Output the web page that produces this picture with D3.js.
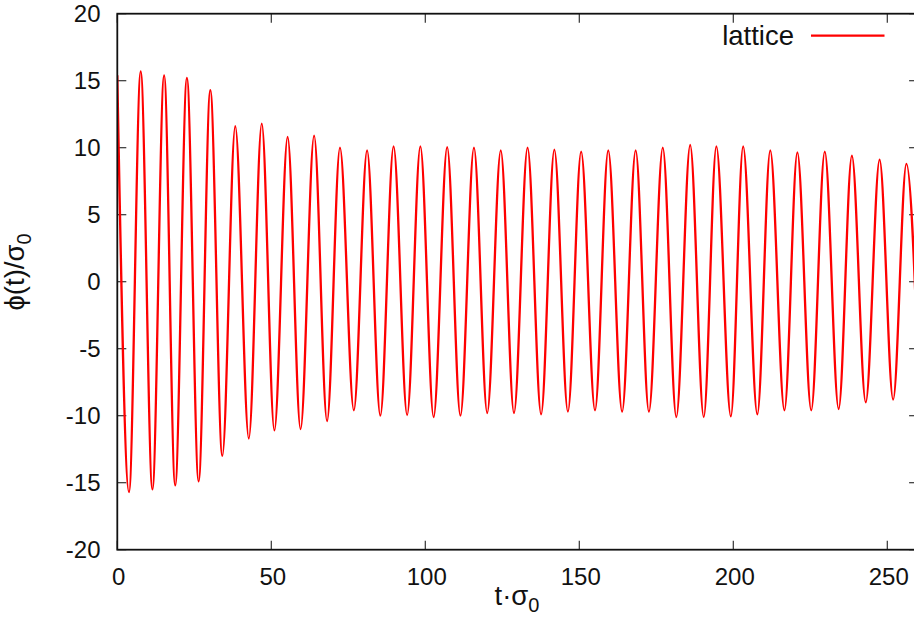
<!DOCTYPE html>
<html>
<head>
<meta charset="utf-8">
<script src="https://cdn.jsdelivr.net/npm/d3@7.9.0/dist/d3.min.js"></script>
<style>
  html, body { margin: 0; padding: 0; background: #fff; }
  svg { display: block; }
  text { font-family: "Liberation Sans", Arial, Helvetica, sans-serif; fill: #111; }
</style>
</head>
<body>
<svg id="chart" width="914" height="635"></svg>
<script>
// ---------- DATA ----------

const seriesName = "lattice";

// maxima of phi(t)/sigma0
const peakTimes  = [0, 7.6, 15.2, 22.6, 30.2, 38.3, 46.9, 55.3, 63.9, 72.3, 81.1, 89.7, 98.4, 107.1, 115.8, 124.5,
                    133.2, 141.9, 150.6, 159.4, 168.3, 177.1, 186.0, 194.5, 203.2, 212.0, 220.8, 229.7, 238.5, 247.5, 256.2];
const peakValues = [15.4, 15.7, 15.4, 15.2, 14.3, 11.6, 11.8, 10.8, 10.9, 10.0, 9.8, 10.1, 10.1, 10.05, 10.0, 9.8,
                    10.0, 9.85, 9.7, 9.8, 9.8, 10.0, 10.2, 10.1, 10.1, 9.8, 9.65, 9.7, 9.4, 9.1, 8.8];

// minima
const troughTimes  = [3.8, 11.4, 18.8, 26.4, 34.1, 42.7, 51.0, 59.5, 68.1, 76.8, 85.4, 94.1, 102.7, 111.4, 120.1, 128.8,
                      137.6, 146.3, 155.1, 163.9, 172.6, 181.5, 190.4, 199.2, 207.8, 216.6, 225.3, 234.2, 243.0, 251.9, 260.4];
const troughValues = [-15.7, -15.5, -15.2, -14.9, -13.0, -11.7, -11.1, -11.0, -10.4, -9.6, -10.0, -9.95, -10.1, -10.0, -9.8, -9.8,
                      -9.9, -9.7, -9.6, -9.7, -9.7, -10.1, -10.1, -10.05, -9.9, -9.6, -9.6, -9.5, -9.0, -8.8, -8.7];

const xTicks = [0, 50, 100, 150, 200, 250];
const yTicks = [-20, -15, -10, -5, 0, 5, 10, 15, 20];

// ---------- LAYOUT ----------

const margin = { left: 117.3, top: 13.7 };
const plotW = 800.8;   // 0..260, right border falls just outside the window
const plotH = 536;
const tickLen = 9;

const svg = d3.select("#chart");

const x = d3.scaleLinear().domain([0, 260]).range([margin.left, margin.left + plotW]);
const y = d3.scaleLinear().domain([-20, 20]).range([margin.top + plotH, margin.top]);

// merge extrema into one time-ordered series
const points = peakTimes.map((t, i) => ({ t, v: peakValues[i] }))
  .concat(troughTimes.map((t, i) => ({ t, v: troughValues[i] })))
  .sort((a, b) => a.t - b.t);

// ---------- CLIP ----------

svg.append("defs").append("clipPath").attr("id", "plotClip")
  .append("rect")
  .attr("x", margin.left).attr("y", margin.top)
  .attr("width", plotW).attr("height", plotH);

// ---------- TICKS (gnuplot style: inward, mirrored) ----------

const ticks = svg.append("g").attr("stroke", "#333").attr("stroke-width", 1.2);

ticks.selectAll(".xb").data(xTicks).join("line")
  .attr("x1", d => x(d)).attr("x2", d => x(d))
  .attr("y1", y(-20)).attr("y2", y(-20) - tickLen);
ticks.selectAll(".xt").data(xTicks).join("line")
  .attr("x1", d => x(d)).attr("x2", d => x(d))
  .attr("y1", y(20)).attr("y2", y(20) + tickLen);
ticks.selectAll(".yl").data(yTicks).join("line")
  .attr("x1", x(0)).attr("x2", x(0) + tickLen)
  .attr("y1", d => y(d)).attr("y2", d => y(d));
ticks.selectAll(".yr").data(yTicks).join("line")
  .attr("x1", x(260)).attr("x2", x(260) - tickLen)
  .attr("y1", d => y(d)).attr("y2", d => y(d));

// tick labels
svg.append("g").selectAll("text").data(xTicks).join("text")
  .attr("x", d => x(d) + 1.5).attr("y", 584.5)
  .attr("text-anchor", "middle")
  .attr("font-size", 24)
  .text(d => d);

svg.append("g").selectAll("text").data(yTicks).join("text")
  .attr("x", 100.5).attr("y", d => y(d))
  .attr("dy", "0.35em")
  .attr("text-anchor", "end")
  .attr("font-size", 24)
  .text(d => d);

// ---------- LINE ----------

const line = d3.line()
  .x(d => x(d.t))
  .y(d => y(d.v))
  .curve(d3.curveMonotoneX);

svg.append("path")
  .datum(points)
  .attr("clip-path", "url(#plotClip)")
  .attr("fill", "none")
  .attr("stroke", "#ff0000")
  .attr("stroke-width", 2.3)
  .attr("stroke-linejoin", "round")
  .attr("d", line);

// ---------- BORDER ----------

svg.append("rect")
  .attr("x", margin.left).attr("y", margin.top)
  .attr("width", plotW).attr("height", plotH)
  .attr("fill", "none")
  .attr("stroke", "#111")
  .attr("stroke-width", 1.8);

// ---------- LEGEND ----------

svg.append("text")
  .attr("x", 794).attr("y", 45.3)
  .attr("text-anchor", "end")
  .attr("font-size", 27.5)
  .text(seriesName);

svg.append("line")
  .attr("x1", 811).attr("x2", 884.5)
  .attr("y1", 35.7).attr("y2", 35.7)
  .attr("stroke", "#ff0000")
  .attr("stroke-width", 2.3);

// ---------- AXIS TITLES ----------

const xTitle = svg.append("text")
  .attr("x", 517).attr("y", 605)
  .attr("text-anchor", "middle")
  .attr("font-size", 27.5);
xTitle.append("tspan").text("t·σ");
xTitle.append("tspan").attr("dy", 7).attr("font-size", 20).text("0");

const yTitle = svg.append("text")
  .attr("transform", "translate(24,272) rotate(-90)")
  .attr("text-anchor", "middle")
  .attr("font-size", 27.5);
yTitle.append("tspan").text("ϕ(t)/σ");
yTitle.append("tspan").attr("dy", 7).attr("font-size", 20).text("0");
</script>
</body>
</html>
